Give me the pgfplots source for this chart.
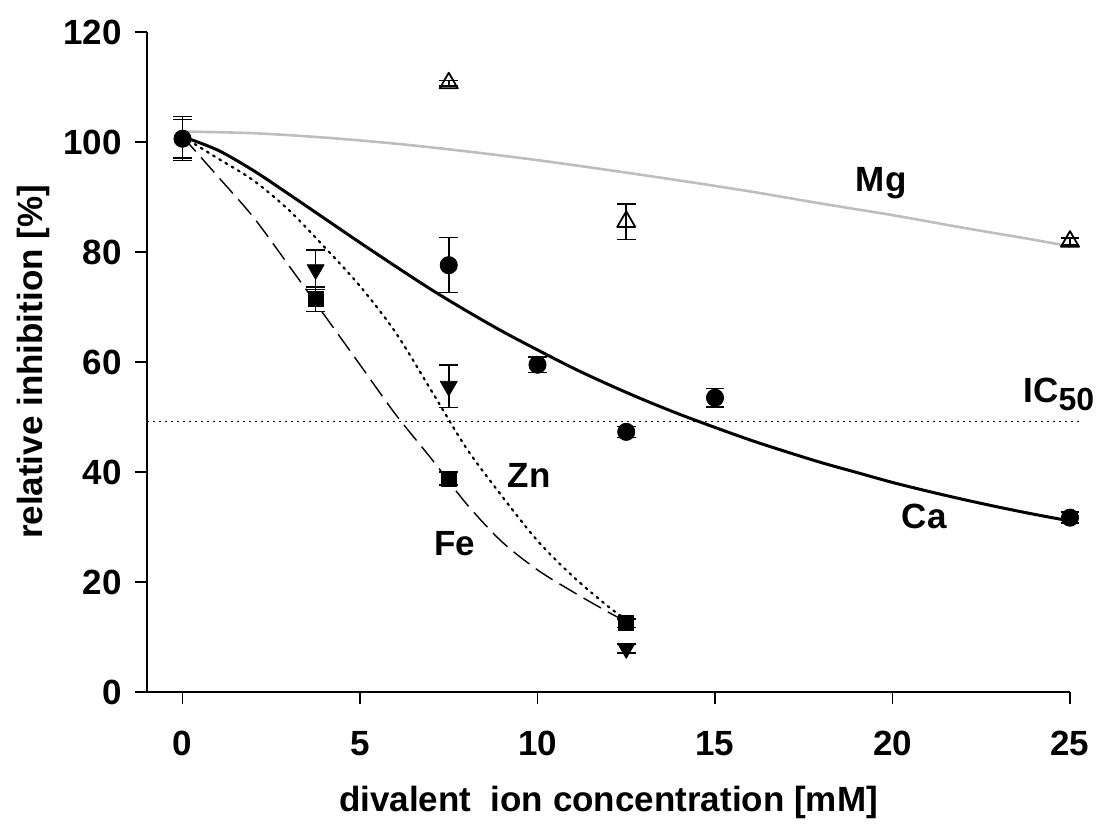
\documentclass[border=0pt]{standalone}
\usepackage{pgfplots}
\pgfplotsset{compat=1.18}
\usepackage{fontspec}
\setmainfont{Liberation Sans}
\definecolor{mggray}{RGB}{190,190,190}
\begin{document}
\begin{tikzpicture}
\begin{axis}[
  scale only axis, width=461.5pt, height=330pt,
  xmin=-1, xmax=25, ymin=0, ymax=120,
  axis x line*=bottom, axis y line*=left,
  axis line style={line width=0.8pt, -},
  xtick={0,5,...,25}, ytick={0,20,...,120},
  tick align=outside, major tick length=6pt,
  tick style={line width=0.8pt, black},
  /pgf/number format/assume math mode=true,
  ticklabel style={font=\fontsize{17.5}{21}\selectfont\bfseries},
  xticklabel style={yshift=-10pt},
  yticklabel style={xshift=-3pt},
  label style={font=\fontsize{17.5}{21}\selectfont\bfseries},
  xlabel={divalent\ \ ion concentration [mM]},
  ylabel={relative inhibition [\%]},
  xlabel style={at={(axis description cs:0.5,-0.168)}, anchor=center},
  ylabel style={at={(axis description cs:-0.1235,0.5)}, anchor=center, rotate=0},
  clip=false,
  every axis plot/.append style={line join=round},
  error bars/error bar style={line width=0.8pt, black},
  error bars/error mark options={rotate=90, mark size=4.7pt, line width=0.8pt, black},
]
% IC50 line
\addplot[black, line width=0.6pt, dash pattern=on 0.8pt off 2.2pt] coordinates {(-1,49.15) (25.35,49.15)};
% fitted curves
\addplot[mggray, line width=1.3pt, smooth] coordinates {
(0,101.9) (2,101.6) (4,100.8) (6,99.7) (8,98.3) (10,96.7) (12,94.9) (14,93.0) (16,91.0) (18,88.8) (20,86.7) (22,84.4) (24,82.2) (25,81.0)};
\addplot[black, line width=1.5pt, smooth] coordinates {
(0,101) (1,98.5) (2,94.8) (3,90.5) (4,86.1) (5,81.7) (6,77.4) (7,73.2) (8,69.3) (9,65.6) (10,62.2) (11,58.9) (12,55.9) (13,53.1) (14,50.5) (15,48.1) (16,45.8) (17,43.7) (18,41.7) (19,39.9) (20,38.1) (21,36.5) (22,35.0) (23,33.6) (24,32.3) (25,31.1)};
\addplot[black, line width=1.1pt, smooth, dash pattern=on 1pt off 2.6pt, line cap=round] coordinates {
(0,101) (1,97) (2,93) (3,87.6) (4,80.9) (5,73.8) (6,65.4) (7,54.9) (8,44.3) (9,35.6) (10,27.5) (11,21) (12,15.5) (12.5,13.2)};
\addplot[black, line width=0.7pt, smooth, dash pattern=on 10pt off 4pt] coordinates {
(0,101) (1,93.7) (2,86.3) (3,77.5) (4,68.5) (5,59.5) (6,50.5) (7,42.5) (8,34.2) (9,27.3) (10,22.2) (11,18.2) (12,14.5) (12.5,12.8)};
% extra error bar at 0
\addplot[draw=none, mark=none, error bars/.cd, y dir=both, y explicit] coordinates {(0,100.6) +- (0,3.5)};
% Mg data
\addplot[only marks, mark=triangle, mark size=5.2pt, mark options={black, fill=white, line width=0.9pt},
  error bars/.cd, y dir=both, y explicit] coordinates {
(7.5,110.7) +- (0,0.5) (12.5,85.5) +- (0,3.2) (25,81.9) +- (0,0.6)};
% Zn data
\addplot[only marks, mark=triangle*, mark size=4.9pt, mark options={black, rotate=180},
  error bars/.cd, y dir=both, y explicit] coordinates {
(3.75,76.8) +- (0,3.6) (7.5,55.6) +- (0,3.9) (12.5,7.9) +- (0,0.8)};
% Fe data
\addplot[only marks, mark=square*, mark size=3.75pt, mark options={black},
  error bars/.cd, y dir=both, y explicit] coordinates {
(3.75,71.4) +- (0,2.2) (7.5,38.8) +- (0,1.2) (12.5,12.5) +- (0,0.8)};
% Ca data
\addplot[only marks, mark=*, mark size=4.3pt, mark options={black},
  error bars/.cd, y dir=both, y explicit] coordinates {
(0,100.6) +- (0,4) (7.5,77.6) +- (0,5) (10,59.5) +- (0,1.4) (12.5,47.3) +- (0,1) (15,53.5) +- (0,1.7) (25,31.7) +- (0,1)};
% labels
\begin{scope}[every node/.style={inner sep=0pt, font=\fontsize{17.5}{21}\selectfont\bfseries, anchor=base west}]
\node at (axis cs:18.96,91.0) {Mg};
\node at (axis cs:23.68,52.6) {IC\raisebox{-4pt}{\fontsize{16}{19}\selectfont 50}};
\node at (axis cs:20.25,29.75) {Ca};
\node at (axis cs:9.15,37.2) {Zn};
\node at (axis cs:7.08,24.9) {Fe};
\end{scope}
\end{axis}
\pgfresetboundingbox
\path (-73.5pt,-66.5pt) rectangle (476.5pt,346pt);
\end{tikzpicture}
\end{document}
